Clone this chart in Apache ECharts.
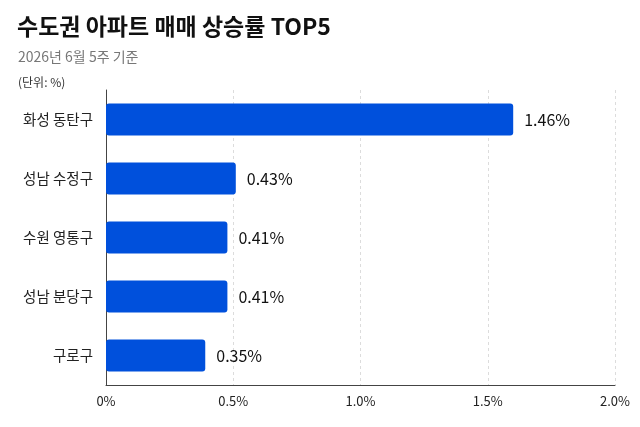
<!DOCTYPE html>
<html>
<head>
<meta charset="utf-8">
<script src="https://cdn.jsdelivr.net/npm/echarts@6/dist/echarts.min.js"></script>
<style>
html,body{margin:0;padding:0;background:#fff;}
#c{width:640px;height:427px;}
</style>
</head>
<body>
<div id="c"></div>
<script>
// Data
const districts = ['화성 동탄구', '성남 수정구', '수원 영통구', '성남 분당구', '구로구'];
const rateLabels = [1.46, 0.43, 0.41, 0.41, 0.35];       // printed values (%)
const barLengths = [1.60, 0.51, 0.477, 0.477, 0.39];     // drawn bar lengths (%)
const xTicks = [0, 0.5, 1.0, 1.5, 2.0];

const FONT = '"Noto Sans CJK KR", "Noto Sans", sans-serif';
const chart = echarts.init(document.getElementById('c'));
chart.setOption({
  backgroundColor: '#ffffff',
  animation: false,
  title: [
    { text: '수도권 아파트 매매 상승률 TOP5', left: 17, top: 15, padding: 0,
      textStyle: { fontFamily: FONT, fontSize: 23, fontWeight: 'bold', color: '#111' } },
    { text: '2026년 6월 5주 기준', left: 18, top: 50, padding: 0,
      textStyle: { fontFamily: FONT, fontSize: 14, fontWeight: 'normal', color: '#777' } },
    { text: '(단위: %)', left: 18, top: 76, padding: 0,
      textStyle: { fontFamily: FONT, fontSize: 12, fontWeight: 'normal', color: '#333' } }
  ],
  grid: { left: 106, right: 25, top: 90, bottom: 42, containLabel: false },
  xAxis: {
    type: 'value', min: xTicks[0], max: xTicks[xTicks.length - 1], interval: 0.5,
    axisLine: { show: true, lineStyle: { color: '#444', width: 1 } },
    axisTick: { show: false },
    splitLine: { show: true, lineStyle: { type: [3, 3], color: '#dcdcdc' } },
    axisLabel: {
      fontFamily: FONT, fontSize: 13, color: '#222', margin: 10,
      formatter: v => (v === 0 ? '0' : v.toFixed(1)) + '%'
    }
  },
  yAxis: {
    type: 'category', data: districts, inverse: true,
    axisLine: { show: true, lineStyle: { color: '#444', width: 1 } },
    axisTick: { show: false },
    axisLabel: { fontFamily: FONT, fontSize: 14.5, color: '#222', margin: 13 }
  },
  series: [{
    type: 'bar',
    data: barLengths,
    barWidth: 32,
    itemStyle: { color: '#0050DC', borderRadius: 3 },
    label: {
      show: true, position: 'right', distance: 11,
      fontFamily: FONT, fontSize: 16, color: '#111',
      formatter: p => rateLabels[p.dataIndex].toFixed(2) + '%'
    }
  }]
});
</script>
</body>
</html>
